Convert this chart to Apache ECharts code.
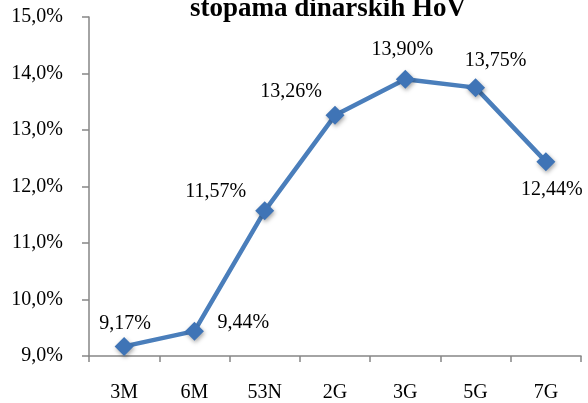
<!DOCTYPE html>
<html>
<head>
<meta charset="utf-8">
<script src="https://cdn.jsdelivr.net/npm/echarts@6/dist/echarts.min.js"></script>
<style>
  html, body { margin: 0; padding: 0; background: #fff; }
  #chart { width: 588px; height: 403px; }
</style>
</head>
<body>
<div id="chart"></div>
<script>
// rocnosti i prinosi
var categories = ['3M', '6M', '53N', '2G', '3G', '5G', '7G'];
var rates = [9.17, 9.44, 11.57, 13.26, 13.90, 13.75, 12.44];
var titleText = 'stopama dinarskih HoV';

var font = 'Liberation Serif, Times New Roman, serif';
var blue = '#4a7ebb';

// gdje stoji natpis u odnosu na tocku
var labelOffsets = [[1, -23], [49, -8], [-49, -19], [-44, -24], [-3, -29], [20, -27], [6, 28]];

function comma(v, d) {
    return v.toFixed(d).replace('.', ',') + '%';
}

var points = [];
for (var i = 0; i < rates.length; i++) {
    points.push({
        value: rates[i],
        label: { offset: labelOffsets[i] }
    });
}

var chart = echarts.init(document.getElementById('chart'));
chart.setOption({
    animation: false,
    title: {
        text: titleText,
        left: 323,
        textAlign: 'center',
        top: -9,
        textStyle: { fontFamily: font, fontSize: 27, fontWeight: 'bold', color: '#000' }
    },
    grid: { left: 89, right: 7, top: 17, bottom: 45 },
    xAxis: {
        type: 'category',
        data: categories,
        boundaryGap: true,
        axisLine: { lineStyle: { color: '#868686', width: 1.5 } },
        axisTick: { show: true, length: 6, lineStyle: { color: '#868686', width: 1.5 } },
        axisLabel: { color: '#000', fontFamily: font, fontSize: 20, margin: 27 },
        splitLine: { show: false }
    },
    yAxis: {
        type: 'value',
        min: 9,
        max: 15,
        interval: 1,
        axisLine: { show: true, lineStyle: { color: '#868686', width: 1.5 } },
        axisTick: { show: true, length: 7, lineStyle: { color: '#868686', width: 1.5 } },
        axisLabel: {
            color: '#000', fontFamily: font, fontSize: 20, margin: 26,
            formatter: function (v) { return comma(v, 1); }
        },
        splitLine: { show: false }
    },
    series: [{
        type: 'line',
        data: points,
        symbol: 'diamond',
        symbolSize: 19,
        lineStyle: { color: blue, width: 4.5 },
        itemStyle: {
            color: '#3f74b6',
            shadowColor: 'rgba(0,0,0,0.35)',
            shadowBlur: 4,
            shadowOffsetX: 1,
            shadowOffsetY: 2
        },
        label: {
            show: true,
            position: 'inside',
            color: '#000',
            fontFamily: font,
            fontSize: 20,
            formatter: function (p) { return comma(p.value, 2); }
        }
    }]
});
</script>
</body>
</html>
